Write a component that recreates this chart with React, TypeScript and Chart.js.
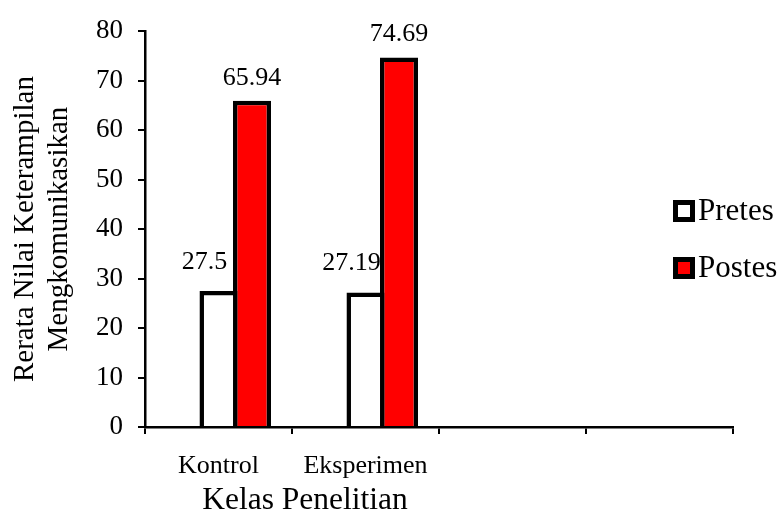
import React, { useEffect, useRef } from "react";
import { Chart, registerables } from "chart.js";

Chart.register(...registerables);

// ---- data ----
const categories = ["Kontrol", "Eksperimen", "", ""];
const spacerValues: (number | null)[] = [null, null, null, null];
const pretesValues: (number | null)[] = [27.5, 27.19, null, null];
const postesValues: (number | null)[] = [65.94, 74.69, null, null];
const seriesNames = ["", "Pretes", "Postes"];
const yMin = 0;
const yMax = 80;
const yStep = 10;
const yAxisTitle = ["Rerata Nilai Keterampilan", "Mengkomunikasikan"];
const xAxisTitle = "Kelas Penelitian";

const FONT = "'Liberation Serif', 'Times New Roman', Times, serif";

const valueLabelPlugin = {
  id: "valueLabels",
  afterDatasetsDraw(chart: any) {
    const ctx = chart.ctx;
    ctx.save();
    ctx.font = `26px ${FONT}`;
    ctx.fillStyle = "#000";
    ctx.textAlign = "center";
    ctx.textBaseline = "alphabetic";
    chart.data.datasets.forEach((ds: any, i: number) => {
      if (!ds.label) return;
      const meta = chart.getDatasetMeta(i);
      const dx = i === 1 ? -14 : 0;
      const dy = i === 1 ? -22 : -16;
      meta.data.forEach((bar: any, j: number) => {
        const v = ds.data[j];
        if (v === null || v === undefined) return;
        ctx.fillText(String(v), bar.x + dx, bar.y + dy);
      });
    });
    ctx.restore();
  },
};

const legendPlugin = {
  id: "sideLegend",
  afterDraw(chart: any) {
    const ctx = chart.ctx;
    ctx.save();
    const items = chart.data.datasets.filter((d: any) => d.label);
    const boxX = 673;
    const firstTop = 200;
    const gap = 57;
    const size = 22;
    items.forEach((d: any, k: number) => {
      const top = firstTop + k * gap;
      ctx.fillStyle = d.backgroundColor;
      ctx.fillRect(boxX + 2.5, top + 2.5, size - 5, size - 5);
      ctx.lineWidth = 5;
      ctx.strokeStyle = "#000";
      ctx.strokeRect(boxX + 2.5, top + 2.5, size - 5, size - 5);
      ctx.fillStyle = "#000";
      ctx.font = `31px ${FONT}`;
      ctx.textAlign = "left";
      ctx.textBaseline = "alphabetic";
      ctx.fillText(d.label, boxX + size + 3, top + 20);
    });
    ctx.restore();
  },
};

const xTitlePlugin = {
  id: "xTitle",
  afterDraw(chart: any) {
    const ctx = chart.ctx;
    ctx.save();
    ctx.font = `31.5px ${FONT}`;
    ctx.fillStyle = "#000";
    ctx.textAlign = "center";
    ctx.textBaseline = "alphabetic";
    ctx.fillText(xAxisTitle, 305, 509);
    ctx.restore();
  },
};

export default function App() {
  const ref = useRef<HTMLCanvasElement | null>(null);

  useEffect(() => {
    if (!ref.current) return;
    const chart = new Chart(ref.current, {
      type: "bar",
      data: {
        labels: categories,
        datasets: [
          {
            label: seriesNames[0],
            data: spacerValues,
            backgroundColor: "rgba(0,0,0,0)",
            borderWidth: 0,
          },
          {
            label: seriesNames[1],
            data: pretesValues,
            backgroundColor: "#FFFFFF",
            borderColor: "#000000",
            borderWidth: 4.5,
          },
          {
            label: seriesNames[2],
            data: postesValues,
            backgroundColor: "#FF0000",
            borderColor: "#000000",
            borderWidth: 4.5,
          },
        ],
      },
      options: {
        responsive: false,
        animation: false,
        layout: { padding: { top: 23, right: 47, bottom: 0, left: 0 } },
        datasets: {
          bar: {
            barPercentage: 1.135,
            categoryPercentage: 0.684,
          },
        },
        plugins: {
          legend: { display: false },
          tooltip: { enabled: false },
        },
        scales: {
          x: {
            offset: true,
            grid: {
              display: true,
              drawOnChartArea: false,
              drawTicks: true,
              tickLength: 7,
              color: "#000",
              lineWidth: 2,
              offset: true,
            },
            border: { display: true, color: "#000", width: 2.5 },
            ticks: {
              color: "#000",
              font: { family: FONT, size: 26 },
              padding: 17,
              maxRotation: 0,
              autoSkip: false,
            },
            afterFit(scale: any) {
              scale.height = 85;
            },
          },
          y: {
            min: yMin,
            max: yMax,
            grid: {
              display: true,
              drawOnChartArea: false,
              drawTicks: true,
              tickLength: 7,
              color: "#000",
              lineWidth: 2,
            },
            border: { display: true, color: "#000", width: 2.5 },
            ticks: {
              stepSize: yStep,
              color: "#000",
              font: { family: FONT, size: 27 },
              padding: 15,
            },
            title: {
              display: true,
              text: yAxisTitle,
              color: "#000",
              font: { family: FONT, size: 29, lineHeight: 1.17 },
              padding: { top: 8, bottom: 0 },
            },
            afterFit(scale: any) {
              scale.width = 145;
            },
          },
        },
      },
      plugins: [valueLabelPlugin, legendPlugin, xTitlePlugin],
    });
    return () => chart.destroy();
  }, []);

  return (
    <div style={{ position: "fixed", left: 0, top: 0, width: 780, height: 512, background: "#fff" }}>
      <canvas ref={ref} width={780} height={512} style={{ width: 780, height: 512 }} />
    </div>
  );
}
